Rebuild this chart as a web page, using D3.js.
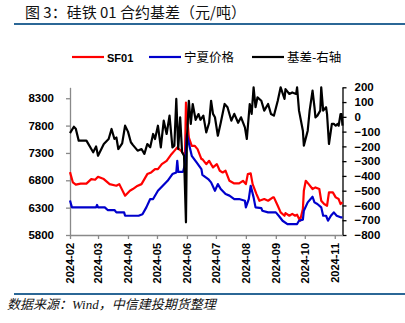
<!DOCTYPE html>
<html><head><meta charset="utf-8">
<script src="https://cdn.jsdelivr.net/npm/d3@7"></script>
<style>
html,body{margin:0;padding:0;background:#fff;}
svg{display:block;}
</style></head>
<body>
<svg id="chart" width="405" height="323"></svg>
<script>
const sfDates = ["2024-02-01","2024-02-04","2024-02-07","2024-02-12","2024-02-18","2024-02-23","2024-02-27","2024-03-01","2024-03-07","2024-03-13","2024-03-20","2024-03-23","2024-03-29","2024-04-03","2024-04-06","2024-04-10","2024-04-15","2024-04-18","2024-04-21","2024-04-25","2024-04-29","2024-05-02","2024-05-06","2024-05-11","2024-05-16","2024-05-19","2024-05-22","2024-05-26","2024-05-30","2024-05-31","2024-06-01","2024-06-03","2024-06-06","2024-06-09","2024-06-12","2024-06-16","2024-06-17","2024-06-21","2024-06-24","2024-06-28","2024-07-02","2024-07-05","2024-07-08","2024-07-11","2024-07-15","2024-07-20","2024-07-25","2024-07-29","2024-08-01","2024-08-03","2024-08-06","2024-08-08","2024-08-12","2024-08-15","2024-08-20","2024-08-24","2024-08-29","2024-08-30","2024-09-03","2024-09-06","2024-09-10","2024-09-11","2024-09-15","2024-09-18","2024-09-21","2024-09-23","2024-09-26","2024-09-29","2024-09-30","2024-10-02","2024-10-05","2024-10-09","2024-10-12","2024-10-16","2024-10-18","2024-10-21","2024-10-24","2024-10-26","2024-10-30","2024-11-02","2024-11-05","2024-11-07","2024-11-09"];
const sfValues = [6950,6760,6720,6740,6740,6822,6810,6864,6822,6730,6700,6730,6518,6610,6640,6690,6730,6822,6913,6944,7004,7004,7095,7156,7278,7338,7400,7338,7247,8221,8000,7582,7430,7430,7370,7187,7187,7095,7156,7035,7095,6974,6944,6974,6791,6743,6743,6791,6730,6913,6926,6730,6548,6426,6457,6426,6488,6488,6335,6214,6152,6200,6152,6185,6152,6170,6061,6274,6608,6791,6730,6640,6670,6640,6426,6366,6335,6579,6579,6488,6457,6366,6400];

const nxDates = ["2024-02-01","2024-02-03","2024-02-12","2024-02-28","2024-02-29","2024-03-01","2024-03-08","2024-03-11","2024-03-18","2024-03-20","2024-03-28","2024-03-29","2024-04-12","2024-04-16","2024-04-20","2024-04-24","2024-04-27","2024-05-02","2024-05-07","2024-05-12","2024-05-17","2024-05-21","2024-05-22","2024-05-23","2024-05-28","2024-05-30","2024-06-01","2024-06-04","2024-06-06","2024-06-11","2024-06-16","2024-06-17","2024-06-23","2024-06-26","2024-06-30","2024-07-03","2024-07-06","2024-07-11","2024-07-15","2024-07-20","2024-07-25","2024-07-31","2024-08-01","2024-08-04","2024-08-06","2024-08-09","2024-08-11","2024-08-17","2024-08-18","2024-08-24","2024-09-01","2024-09-04","2024-09-08","2024-09-13","2024-09-23","2024-09-25","2024-09-29","2024-09-30","2024-10-04","2024-10-09","2024-10-11","2024-10-14","2024-10-18","2024-10-20","2024-10-23","2024-10-25","2024-10-28","2024-10-31","2024-11-03","2024-11-07","2024-11-09"];
const nxValues = [6430,6305,6305,6305,6350,6305,6305,6256,6256,6214,6214,6152,6152,6180,6305,6457,6457,6608,6700,6791,6913,6944,7156,6955,6955,7095,7643,7400,7247,7126,7004,6900,6822,6762,6608,6730,6640,6548,6520,6457,6457,6426,6305,6457,6700,6488,6305,6290,6244,6214,6214,6152,6061,6000,6000,6061,6080,6244,6396,6499,6396,6366,6305,6152,6152,6061,6152,6214,6152,6123,6123];

const basisDates = ["2024-02-01","2024-02-05","2024-02-07","2024-02-10","2024-02-18","2024-02-25","2024-02-28","2024-03-01","2024-03-07","2024-03-12","2024-03-15","2024-03-18","2024-03-20","2024-03-22","2024-03-26","2024-03-29","2024-04-01","2024-04-04","2024-04-06","2024-04-11","2024-04-15","2024-04-18","2024-04-21","2024-04-24","2024-04-27","2024-04-29","2024-05-02","2024-05-05","2024-05-08","2024-05-11","2024-05-14","2024-05-17","2024-05-19","2024-05-21","2024-05-23","2024-05-25","2024-05-27","2024-05-29","2024-05-31","2024-06-01","2024-06-03","2024-06-05","2024-06-07","2024-06-10","2024-06-13","2024-06-15","2024-06-18","2024-06-21","2024-06-24","2024-06-26","2024-06-28","2024-06-30","2024-07-03","2024-07-06","2024-07-10","2024-07-13","2024-07-17","2024-07-20","2024-07-24","2024-07-27","2024-07-31","2024-08-02","2024-08-05","2024-08-07","2024-08-09","2024-08-11","2024-08-13","2024-08-17","2024-08-20","2024-08-24","2024-08-27","2024-08-30","2024-09-03","2024-09-06","2024-09-10","2024-09-11","2024-09-15","2024-09-18","2024-09-22","2024-09-23","2024-09-25","2024-09-29","2024-09-30","2024-10-04","2024-10-06","2024-10-09","2024-10-11","2024-10-12","2024-10-14","2024-10-17","2024-10-18","2024-10-20","2024-10-23","2024-10-24","2024-10-26","2024-10-29","2024-10-31","2024-11-02","2024-11-04","2024-11-05","2024-11-07","2024-11-08","2024-11-09"];
const basisValues = [-110,-67,-80,-161,-161,-240,-200,-263,-184,-150,-82,-150,-140,-218,-180,-60,-100,-172,-190,-229,-218,-251,-184,-206,-116,-150,-60,-207,-26,-116,8,-207,-195,121,-218,-3,-240,-263,-714,-145,109,-48,87,-20,19,-20,8,-105,-40,109,20,-3,-128,-40,87,65,-26,20,-40,-3,-71,-150,87,20,200,65,132,109,42,87,19,8,109,200,121,188,155,165,155,200,42,-94,-195,-94,42,177,65,-3,8,42,200,42,65,19,-184,-48,-48,-60,-48,-60,19,19,-60];

const leftTicks = [5800,6300,6800,7300,7800,8300];
const rightTicks = [200,100,0,-100,-200,-300,-400,-500,-600,-700,-800];
const monthTicks = ["2024-02-01","2024-03-01","2024-04-01","2024-05-01","2024-06-01","2024-07-01","2024-08-01","2024-09-01","2024-10-01","2024-11-01"];
const seriesNames = ["SF01","宁夏价格","基差-右轴"];
const titleText = "图 3：硅铁 01 合约基差（元/吨）";
const sourceText = "数据来源：Wind，中信建投期货整理";

const parse = d3.timeParse("%Y-%m-%d");
const svg = d3.select("#chart");

const plot = {l:70, r:342.5, t:87.3, b:235};
const x = d3.scaleTime().domain([parse("2024-02-01"), parse("2024-11-09")]).range([plot.l, plot.r]);
const yL = d3.scaleLinear().domain([5800, 8500]).range([plot.b, plot.t]);
const yR = d3.scaleLinear().domain([-800, 200]).range([plot.b, plot.t]);

// title
svg.append("text").attr("x", 25).attr("y", 18)
  .attr("font-family", "'Noto Sans CJK SC', sans-serif").attr("font-size", 15)
  .attr("fill", "#111").text(titleText);
svg.append("line").attr("x1", 14).attr("x2", 405).attr("y1", 24).attr("y2", 24)
  .attr("stroke", "#2b6796").attr("stroke-width", 2);
svg.append("line").attr("x1", 14).attr("x2", 405).attr("y1", 294).attr("y2", 294)
  .attr("stroke", "#2b6796").attr("stroke-width", 2);
svg.append("text").attr("x", 7).attr("y", 309)
  .attr("font-family", "'Liberation Serif', 'Noto Sans CJK SC', serif").attr("font-size", 13)
  .attr("font-style", "italic")
  .attr("fill", "#111").text(sourceText);

// legend
const legendColors = ["#ff0000", "#0000cc", "#000000"];
const legendX = [72, 149, 252];
seriesNames.forEach((n, i) => {
  svg.append("line").attr("x1", legendX[i]).attr("x2", legendX[i] + 32)
    .attr("y1", 57).attr("y2", 57).attr("stroke", legendColors[i]).attr("stroke-width", 2.2);
  svg.append("text").attr("x", legendX[i] + 35).attr("y", 61.5)
    .attr("font-family", i === 0 ? "'Liberation Sans', Arial, sans-serif" : "'Noto Sans CJK SC', sans-serif")
    .attr("font-weight", i === 0 ? "bold" : "normal")
    .attr("font-size", i === 0 ? 11 : 12.5).attr("fill", "#000").text(n);
});

// axes
const axFont = "'Liberation Sans', Arial, sans-serif";
const gL = svg.append("g").attr("transform", `translate(${plot.l},0)`)
  .call(d3.axisLeft(yL).tickValues(leftTicks).tickFormat(d3.format("d")).tickSize(4).tickPadding(12).tickSizeOuter(0));
gL.selectAll("path,line").attr("stroke", "#898989").attr("stroke-width", 1.3);
gL.selectAll("text").attr("font-family", axFont).attr("font-size", 11.5).attr("font-weight", "bold").attr("fill", "#000");

const gR = svg.append("g").attr("transform", `translate(${plot.r},0)`)
  .call(d3.axisRight(yR).tickValues(rightTicks).tickFormat(d3.format("d")).tickSize(4).tickPadding(8).tickSizeOuter(0));
gR.selectAll("path,line").attr("stroke", "#000").attr("stroke-width", 1.3);
gR.selectAll("text").attr("font-family", axFont).attr("font-size", 11.5).attr("font-weight", "bold").attr("fill", "#000");

const gB = svg.append("g").attr("transform", `translate(0,${plot.b})`)
  .call(d3.axisBottom(x).tickValues(monthTicks.map(parse)).tickFormat(d3.timeFormat("%Y-%m")).tickSize(4).tickSizeOuter(0));
gB.selectAll("path,line").attr("stroke", "#898989").attr("stroke-width", 1.3);
gB.selectAll("text").attr("font-family", axFont).attr("font-size", 11).attr("font-weight", "bold").attr("fill", "#000")
  .attr("text-anchor", "end").attr("dy", "0.35em")
  .attr("transform", "translate(0,8) rotate(-90)").attr("x", 0).attr("y", 0);

// lines
const sfData = sfDates.map((d, i) => ({d: parse(d), v: sfValues[i]}));
const nxData = nxDates.map((d, i) => ({d: parse(d), v: nxValues[i]}));
const bsData = basisDates.map((d, i) => ({d: parse(d), v: basisValues[i]}));
const lineL = d3.line().x(p => x(p.d)).y(p => yL(p.v));
const lineR = d3.line().x(p => x(p.d)).y(p => yR(p.v));

svg.append("path").datum(sfData).attr("d", lineL).attr("fill", "none")
  .attr("stroke", "#ff0000").attr("stroke-width", 2.2).attr("stroke-linejoin", "round");
svg.append("path").datum(nxData).attr("d", lineL).attr("fill", "none")
  .attr("stroke", "#0000cc").attr("stroke-width", 2.2).attr("stroke-linejoin", "round");
svg.append("path").datum(bsData).attr("d", lineR).attr("fill", "none")
  .attr("stroke", "#000").attr("stroke-width", 2.2).attr("stroke-linejoin", "round");
</script>
</body></html>
